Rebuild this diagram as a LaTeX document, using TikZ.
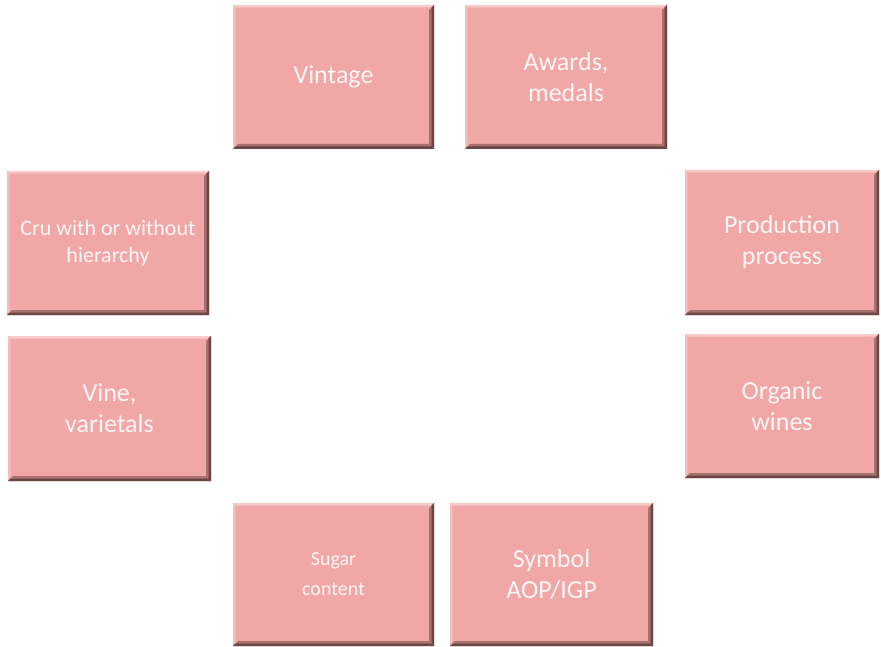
\documentclass[tikz,border=0pt]{standalone}
\usepackage{fontspec}
\setmainfont{Carlito}
\definecolor{boxfill}{HTML}{F1A7A6}
\definecolor{boxtext}{HTML}{FFF6F6}
\definecolor{bevtop}{HTML}{F8CBCA}
\definecolor{bevleft}{HTML}{F5BEBD}
\definecolor{bevdark}{HTML}{A77170}
\definecolor{bevdeep}{HTML}{6A4645}
\tikzset{
  winebox/.style={rectangle, inner sep=0pt, fill=boxfill, text=boxtext,
    align=center, font=\fontsize{26}{31}\selectfont,
    path picture={
      \path (path picture bounding box.north west) coordinate (pnw)
            (path picture bounding box.north east) coordinate (pne)
            (path picture bounding box.south west) coordinate (psw)
            (path picture bounding box.south east) coordinate (pse);
      % light bevel on top and left
      \fill[bevtop] (pnw) -- (pne) -- ([shift={(-2pt,-2.5pt)}]pne) -- ([shift={(2.5pt,-2.5pt)}]pnw) -- cycle;
      \fill[bevleft] (pnw) -- (psw) -- ([shift={(2.5pt,2pt)}]psw) -- ([shift={(2.5pt,-2.5pt)}]pnw) -- cycle;
      % dark bevel on right and bottom
      \fill[bevdark] (pne) -- (pse) -- ([shift={(-5pt,5pt)}]pse) -- ([shift={(-5pt,-5pt)}]pne) -- cycle;
      \fill[bevdark] (psw) -- (pse) -- ([shift={(-5pt,5pt)}]pse) -- ([shift={(5pt,5pt)}]psw) -- cycle;
      \fill[bevdeep] (pne) -- (pse) -- ([shift={(-2.5pt,2.5pt)}]pse) -- ([shift={(-2.5pt,-2.5pt)}]pne) -- cycle;
      \fill[bevdeep] (psw) -- (pse) -- ([shift={(-2.5pt,2.5pt)}]pse) -- ([shift={(2.5pt,2.5pt)}]psw) -- cycle;
    }},
  boxsize/.style 2 args={minimum width=#1pt, minimum height=#2pt},
  smalltext/.style={font=\fontsize{22}{27}\selectfont},
  smallertext/.style={font=\fontsize{20}{30}\selectfont}
}
\begin{document}
\begin{tikzpicture}[x=1pt, y=-1pt]
  \useasboundingbox (0,0) rectangle (881,647);
  % top row
  \node[winebox, boxsize={201}{144}] (vintage) at (333.5,77) {Vintage};
  \node[winebox, boxsize={202}{144}] (awards) at (566,77) {Awards,\\medals};
  % left column
  \node[winebox, smalltext, boxsize={202}{144}] (cru) at (108,243) {Cru with or without\\hierarchy};
  \node[winebox, boxsize={203}{145}] (vine) at (109.5,408.5) {Vine,\\varietals};
  % right column
  \node[winebox, boxsize={194}{145}] (production) at (782,242.5) {Production\\process};
  \node[winebox, boxsize={194}{144}] (organic) at (782,406) {Organic\\wines};
  % bottom row
  \node[winebox, smallertext, boxsize={201}{143}] (sugar) at (333.5,574.5) {Sugar\\content};
  \node[winebox, boxsize={203}{143}] (symbol) at (551.5,574.5) {Symbol\\AOP/IGP};
\end{tikzpicture}
\end{document}
